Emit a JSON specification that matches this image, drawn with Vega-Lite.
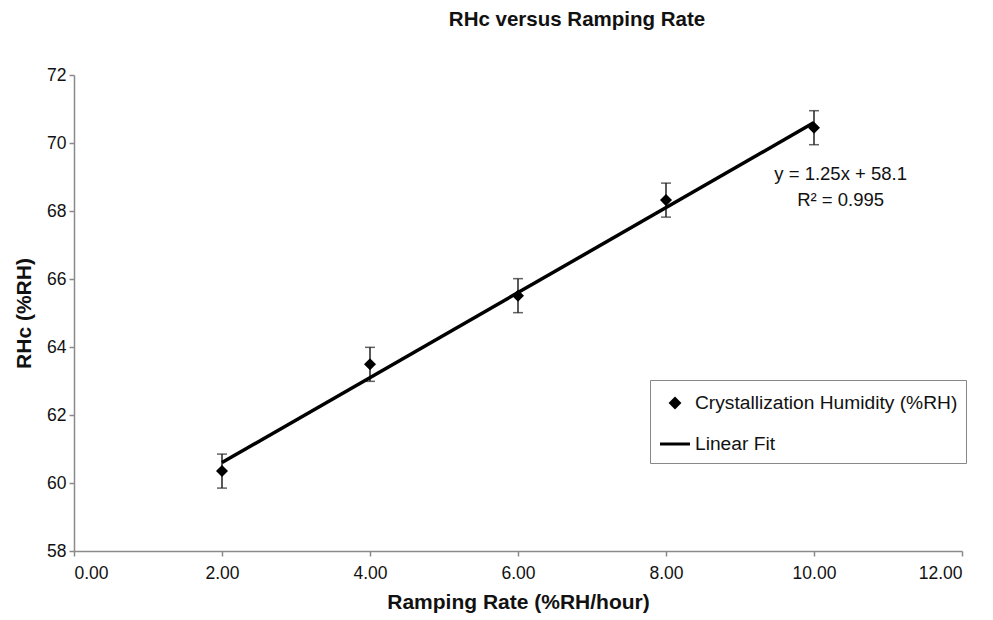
{
  "$schema": "https://vega.github.io/schema/vega-lite/v6.json",
  "width": 888,
  "height": 476,
  "autosize": "none",
  "padding": {"left": 74, "top": 75, "right": 31, "bottom": 69},
  "background": "white",
  "config": {
    "view": {"stroke": null},
    "font": "Liberation Sans",
    "axis": {
      "domainColor": "#8a8a8a",
      "domainWidth": 1.5,
      "tickColor": "#8a8a8a",
      "tickWidth": 1.5,
      "tickSize": 5,
      "grid": false,
      "labelFont": "Liberation Sans",
      "labelFontSize": 17.5,
      "labelColor": "#111",
      "titleFont": "Liberation Sans",
      "titleFontSize": 21,
      "titleFontWeight": "bold",
      "titleColor": "#111"
    }
  },
  "title": {
    "text": "RHc versus Ramping Rate",
    "font": "Liberation Sans",
    "fontSize": 20.5,
    "fontWeight": "bold",
    "color": "#111",
    "anchor": "middle",
    "dx": 59,
    "offset": 36
  },
  "datasets": {
    "obs": [
      {"rate": 2, "rh": 60.35, "lo": 59.85, "hi": 60.85, "series": "Crystallization Humidity (%RH)"},
      {"rate": 4, "rh": 63.49, "lo": 62.99, "hi": 63.99, "series": "Crystallization Humidity (%RH)"},
      {"rate": 6, "rh": 65.51, "lo": 65.01, "hi": 66.01, "series": "Crystallization Humidity (%RH)"},
      {"rate": 8, "rh": 68.32, "lo": 67.82, "hi": 68.82, "series": "Crystallization Humidity (%RH)"},
      {"rate": 10, "rh": 70.45, "lo": 69.95, "hi": 70.95, "series": "Crystallization Humidity (%RH)"}
    ],
    "fit": [
      {"rate": 2, "rh": 60.6},
      {"rate": 10, "rh": 70.6}
    ],
    "eq": [
      {"rate": 10.36, "rh": 69.09, "label": "y = 1.25x + 58.1"},
      {"rate": 10.36, "rh": 68.33, "label": "R² = 0.995"}
    ]
  },
  "layer": [
    {
      "data": {"name": "obs"},
      "mark": {"type": "rule", "color": "#222", "strokeWidth": 1.5},
      "encoding": {
        "x": {"field": "rate", "type": "quantitative", "scale": {"domain": [0, 12]},
              "axis": {"title": "Ramping Rate (%RH/hour)", "values": [0, 2, 4, 6, 8, 10, 12], "format": ".2f", "labelPadding": 8, "titlePadding": 10}},
        "y": {"field": "lo", "type": "quantitative", "scale": {"domain": [58, 72]},
              "axis": {"title": "RHc (%RH)", "values": [58, 60, 62, 64, 66, 68, 70, 72], "labelPadding": 3, "titlePadding": 12}},
        "y2": {"field": "hi"}
      }
    },
    {
      "data": {"name": "obs"},
      "mark": {"type": "tick", "orient": "horizontal", "color": "#222", "size": 10, "thickness": 1.5},
      "encoding": {
        "x": {"field": "rate", "type": "quantitative"},
        "y": {"field": "lo", "type": "quantitative"}
      }
    },
    {
      "data": {"name": "obs"},
      "mark": {"type": "tick", "orient": "horizontal", "color": "#222", "size": 10, "thickness": 1.5},
      "encoding": {
        "x": {"field": "rate", "type": "quantitative"},
        "y": {"field": "hi", "type": "quantitative"}
      }
    },
    {
      "data": {"name": "fit"},
      "mark": {"type": "line", "color": "black", "strokeWidth": 3.5},
      "encoding": {
        "x": {"field": "rate", "type": "quantitative"},
        "y": {"field": "rh", "type": "quantitative"}
      }
    },
    {
      "data": {"name": "obs"},
      "mark": {"type": "point", "filled": true, "color": "black", "opacity": 1, "size": 780},
      "encoding": {
        "x": {"field": "rate", "type": "quantitative"},
        "y": {"field": "rh", "type": "quantitative"},
        "shape": {
          "field": "series", "type": "nominal",
          "scale": {"domain": ["Crystallization Humidity (%RH)", "Linear Fit"], "range": ["M-0.43,0L0,-0.43L0.43,0L0,0.43Z", "M-1,-0.1L1,-0.1L1,0.1L-1,0.1Z"]},
          "legend": {
            "title": null,
            "orient": "none",
            "legendX": 576,
            "legendY": 305,
            "padding": 8,
            "strokeColor": "#888",
            "fillColor": "white",
            "labelFont": "Liberation Sans",
            "labelFontSize": 19.2,
            "labelColor": "#111",
            "labelOffset": 5,
            "labelLimit": 400,
            "rowPadding": 15,
            "symbolOffset": 2,
            "symbolSize": 900,
            "symbolFillColor": "black",
            "symbolStrokeWidth": 0
          }
        }
      }
    },
    {
      "data": {"name": "eq"},
      "mark": {"type": "text", "font": "Liberation Sans", "fontSize": 18.5, "color": "#111", "align": "center", "baseline": "middle"},
      "encoding": {
        "x": {"field": "rate", "type": "quantitative"},
        "y": {"field": "rh", "type": "quantitative"},
        "text": {"field": "label", "type": "nominal"}
      }
    }
  ]
}
